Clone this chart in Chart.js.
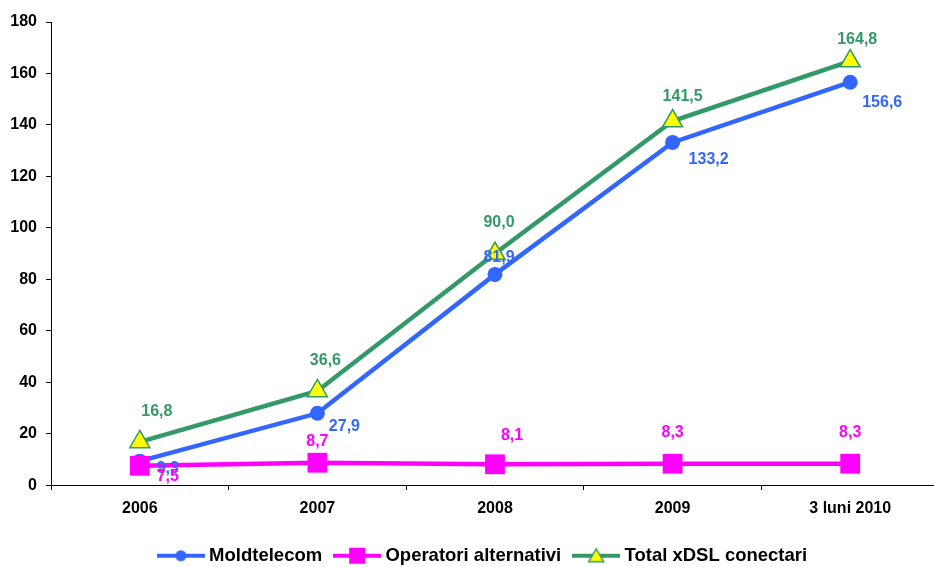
<!DOCTYPE html>
<html lang="ro">
<head>
<meta charset="UTF-8">
<title>Conectari xDSL</title>
<script src="https://cdn.jsdelivr.net/npm/chart.js"></script>
<style>
    body { margin: 0; background: #fff; overflow: hidden; }
    #container-grafic { width: 939px; height: 567px; }
</style>
</head>
<body>
<div id="container-grafic"><canvas id="grafic"></canvas></div>
<script>
    // date (mii conectari)
    var ani = ['2006', '2007', '2008', '2009', '3 luni 2010'];
    var moldtelecom = [9.3, 27.9, 81.9, 133.2, 156.6];
    var operatori = [7.5, 8.7, 8.1, 8.3, 8.3];
    var totalXdsl = [16.8, 36.6, 90.0, 141.5, 164.8];
    var yMin = 0, yMax = 180, yPas = 20;

    var albastru = '#3366FF';
    var magenta = '#FF00FF';
    var verde = '#339966';
    var galben = '#FFFF00';
    var font = '"Liberation Sans", Arial, sans-serif';

    // deplasarea etichetelor fata de punct (px)
    var deplasari = [
        [[28, 7], [27, 13], [4, -17], [36, 17], [32, 20]],
        [[28, 11], [0, -21], [17, -29], [0, -31], [0, -31]],
        [[17, -30], [8, -30], [4, -31], [10, -24], [7, -22]]
    ];

    function iconita(culoare, tip) {
        var c = document.createElement('canvas');
        c.width = 48; c.height = 20;
        var g = c.getContext('2d');
        g.strokeStyle = culoare;
        g.lineWidth = 4;
        g.beginPath(); g.moveTo(0, 10); g.lineTo(48, 10); g.stroke();
        if (tip == 'cerc') {
            g.fillStyle = culoare;
            g.beginPath(); g.arc(24, 10, 5.5, 0, Math.PI * 2); g.fill();
        } else if (tip == 'patrat') {
            g.fillStyle = culoare;
            g.fillRect(16, 2, 16, 16);
        } else {
            g.fillStyle = galben;
            g.strokeStyle = culoare;
            g.lineWidth = 1.5;
            g.beginPath(); g.moveTo(24, 3); g.lineTo(31.5, 16); g.lineTo(16.5, 16); g.closePath();
            g.fill(); g.stroke();
        }
        return c;
    }

    var etichete = {
        id: 'etichete',
        afterDatasetsDraw: function (chart) {
            var ctx = chart.ctx;
            ctx.save();
            ctx.font = 'bold 16px ' + font;
            ctx.textAlign = 'center';
            ctx.textBaseline = 'middle';
            [0, 2, 1].forEach(function (d) {
                var ds = chart.data.datasets[d];
                chart.getDatasetMeta(d).data.forEach(function (p, i) {
                    ctx.fillStyle = ds.borderColor;
                    var txt = ds.data[i].toFixed(1).replace('.', ',');
                    ctx.fillText(txt, p.x + deplasari[d][i][0], p.y + deplasari[d][i][1]);
                });
            });
            ctx.restore();
        }
    };

    // legenda ceva mai la dreapta si mai jos, ca in original
    var deplasareLegenda = {
        id: 'deplasareLegenda',
        afterLayout: function (chart) {
            chart.legend.left += 15;
            chart.legend.right += 15;
            chart.legend.top += 8;
            chart.legend.bottom += 8;
        }
    };

    new Chart(document.getElementById('grafic'), {
        type: 'line',
        data: {
            labels: ani,
            datasets: [{
                label: 'Moldtelecom',
                data: moldtelecom,
                borderColor: albastru,
                backgroundColor: albastru,
                borderWidth: 4.5,
                pointStyle: 'circle',
                pointRadius: 7.5,
                pointBorderWidth: 0,
                order: 2
            }, {
                label: 'Operatori alternativi',
                data: operatori,
                borderColor: magenta,
                backgroundColor: magenta,
                borderWidth: 4.5,
                pointStyle: 'rect',
                pointRadius: 14,
                pointBorderWidth: 0,
                order: 0
            }, {
                label: 'Total xDSL conectari',
                data: totalXdsl,
                borderColor: verde,
                backgroundColor: galben,
                borderWidth: 4.5,
                pointStyle: 'triangle',
                pointRadius: 11.5,
                pointBackgroundColor: galben,
                pointBorderColor: verde,
                pointBorderWidth: 1.5,
                order: 1
            }]
        },
        options: {
            responsive: true,
            maintainAspectRatio: false,
            animation: false,
            events: [],
            layout: { autoPadding: false, padding: { top: 22, right: 0, left: 0, bottom: 0 } },
            plugins: {
                tooltip: { enabled: false },
                legend: {
                    position: 'bottom',
                    labels: {
                        usePointStyle: true,
                        pointStyleWidth: 38,
                        padding: 16,
                        color: '#000',
                        font: { family: font, size: 18.5, weight: 'bold' },
                        sort: function (a, b) { return a.datasetIndex - b.datasetIndex; },
                        generateLabels: function (chart) {
                            var tipuri = ['cerc', 'patrat', 'triunghi'];
                            return chart.data.datasets.map(function (ds, i) {
                                return {
                                    text: ds.label,
                                    datasetIndex: i,
                                    pointStyle: iconita(ds.borderColor, tipuri[i]),
                                    fontColor: '#000',
                                    lineWidth: 0,
                                    hidden: false
                                };
                            });
                        }
                    }
                }
            },
            scales: {
                x: {
                    offset: true,
                    border: { color: '#000', width: 1 },
                    grid: { offset: true, drawOnChartArea: false, drawTicks: true, tickLength: 5, color: '#000' },
                    ticks: { color: '#000', padding: 9, font: { family: font, size: 16, weight: 'bold' } },
                    afterFit: function (scale) {
                        scale.height = 37.4;
                        scale.paddingLeft = 0;
                        scale.paddingRight = 0;
                    }
                },
                y: {
                    min: yMin,
                    max: yMax,
                    border: { color: '#000', width: 1 },
                    grid: { drawOnChartArea: false, drawTicks: true, tickLength: 5, color: '#000' },
                    ticks: { stepSize: yPas, color: '#000', padding: 9, font: { family: font, size: 16, weight: 'bold' } },
                    afterFit: function (scale) { scale.width = 51; }
                }
            }
        },
        plugins: [etichete, deplasareLegenda]
    });
</script>
</body>
</html>
